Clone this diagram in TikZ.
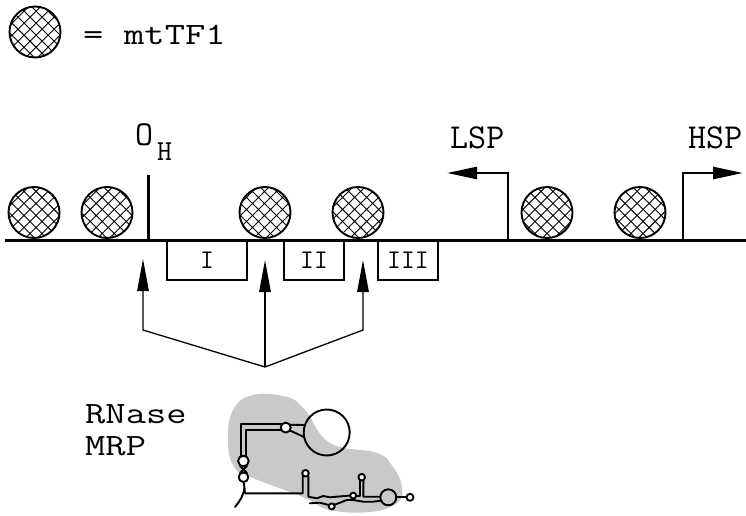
\documentclass[tikz,border=0pt]{standalone}
\usepackage{fontspec}
\usetikzlibrary{arrows.meta,patterns.meta}

% wide typewriter lettering
\newcommand{\widett}[2]{\scalebox{#1}[1]{#2}}

\begin{document}
\begin{tikzpicture}[x=1pt,y=-1pt,
  bead/.style={circle,draw,line width=1.9pt,minimum size=51pt,inner sep=0pt,
    pattern={Hatch[angle=45,distance=8.5pt,line width=0.9pt]}},
  lbl/.style={anchor=base west,inner sep=0pt,font=\fontsize{35}{35}\selectfont\ttfamily},
  widelbl/.style={anchor=base west,inner sep=0pt,font=\fontsize{31}{31}\selectfont\ttfamily},
  sublbl/.style={anchor=base west,inner sep=0pt,font=\fontsize{29}{29}\selectfont\ttfamily},
  regbox/.style={draw,line width=1.4pt,minimum height=40pt,inner sep=0pt,
    font=\fontsize{27}{27}\selectfont\ttfamily},
  dna/.style={line width=3pt},
  promoter/.style={line width=2.6pt,-{Triangle[length=30pt,width=12pt]}},
  cleave/.style={line width=1.3pt,-{Triangle[length=32pt,width=11.5pt]}},
  rna/.style={line width=1.9pt,line cap=round,line join=round},
  rnaloop/.style={rna,fill=white}]
\useasboundingbox (0,0) rectangle (746,516);

% legend
\node[bead] (key) at (35,32) {};
\node[widelbl] (eq) at (83,45) {\widett{1.27}{=}};
\node[widelbl] (keytxt) at (124,45) {\widett{1.27}{mtTF1}};

% conserved sequence blocks under the strand
\node[regbox,minimum width=80pt] (csbI) at (207,260) {I};
\node[regbox,minimum width=60pt] (csbII) at (314,260) {II};
\node[regbox,minimum width=60pt] (csbIII) at (408,260) {III};

% DNA strand
\coordinate (dnaL) at (5,240);
\coordinate (dnaR) at (746,240);
\draw[dna] (dnaL) -- (dnaR);

% mtTF1 beads on the strand
\node[bead] (b1) at (34,212.5) {};
\node[bead] (b2) at (107,212.5) {};
\node[bead] (b3) at (265,212.5) {};
\node[bead] (b4) at (358,212.5) {};
\node[bead] (b5) at (547,212.5) {};
\node[bead] (b6) at (640,212.5) {};

% origin of heavy-strand replication
\coordinate (ohB) at (148,240);
\coordinate (ohT) at (148,175);
\draw[line width=3pt] (ohB) -- (ohT);
\node[lbl] (O) at (135,145) {O};
\node[sublbl] (H) at (157,160) {H};

% promoters
\coordinate (lspB) at (508,240);
\coordinate (lspT) at (447,173);
\draw[promoter] (lspB) |- (lspT);
\node[lbl] (lsp) at (450,148) {LSP};
\coordinate (hspB) at (683,240);
\coordinate (hspT) at (743,173);
\draw[promoter] (hspB) |- (hspT);
\node[lbl] (hsp) at (688,148) {HSP};

% RNase MRP cleavage sites
\coordinate (hub) at (265,367);
\coordinate (aL) at (143,330);
\coordinate (aR) at (363,330);
\coordinate (tipL) at (143,259);
\coordinate (tipM) at (265,260);
\coordinate (tipR) at (363,260);
\draw[cleave] (hub) -- (aL) -- (tipL);
\draw[cleave] (hub) -- (tipM);
\draw[cleave] (hub) -- (aR) -- (tipR);

% RNase MRP label
\node[widelbl] (rn1) at (85,423) {\widett{1.27}{RNase}};
\node[widelbl] (rn2) at (85,455) {\widett{1.27}{MRP}};

% ribonucleoprotein: protein cloud
\fill[gray!42] plot[smooth cycle,tension=0.7] coordinates {
  (233,410) (253,395) (287,397) (305,410) (330,443) (377,453) (393,467)
  (402,487) (397,503) (370,512) (330,510) (303,497) (253,478) (234,467) (228,440)};

% ribonucleoprotein: RNA
\draw[rna] (326.7,432.5) circle[radius=23pt];
\draw[rna] (281.5,424.3) -- (240.7,424.3) -- (240.7,456);
\draw[rna] (281.5,430.2) -- (246,430.2) -- (246,456);
\draw[rna] (290,424.8) -- (305,425);
\draw[rna] (290,430.5) -- (304,437);
\draw[rnaloop] (285.7,427.6) circle[radius=5pt];
\draw[rnaloop] (243.4,461) circle[radius=5.3pt];
\draw[rna] (240,466) -- (247,473);
\draw[rna] (247,466) -- (240,473);
\draw[rnaloop] (243.5,477.2) circle[radius=4.8pt];
\draw[rna] (243.8,482) -- (245,493.3) -- (302.7,493.3) -- (302.7,476);
\draw[rna] (244.5,488) .. controls (243,497) and (239,502) .. (235,507);
\draw[rna] (308.3,476) -- (308.3,496.7) -- (316.7,498.3) -- (323.3,496)
  -- (330,497.3) -- (336.7,496.7) -- (345,496) -- (350,495.5);
\draw[rna] (356.3,496) -- (360,496) -- (360,480);
\draw[rna] (363.4,480) -- (363.4,496.7) -- (380.3,496.8);
\draw[rna] (310,503.3) -- (320,502.7) -- (328.7,505);
\draw[rna] (334.7,504.6) -- (340,502.7) -- (346.7,500) -- (353.3,500)
  -- (363.3,501.7) -- (373.3,501.7) -- (381.5,500.5);
\draw[rna] (396.3,497.3) -- (406.5,497.3);
\draw[rnaloop] (305.5,473.3) circle[radius=3.3pt];
\draw[rnaloop] (353.2,495.6) circle[radius=3pt];
\draw[rnaloop] (361.7,477.2) circle[radius=3.3pt];
\draw[rnaloop] (331.7,506.4) circle[radius=3pt];
\draw[rna] (388.3,497.3) circle[radius=8pt];
\draw[rnaloop] (410,497.3) circle[radius=3.5pt];
\end{tikzpicture}
\end{document}
